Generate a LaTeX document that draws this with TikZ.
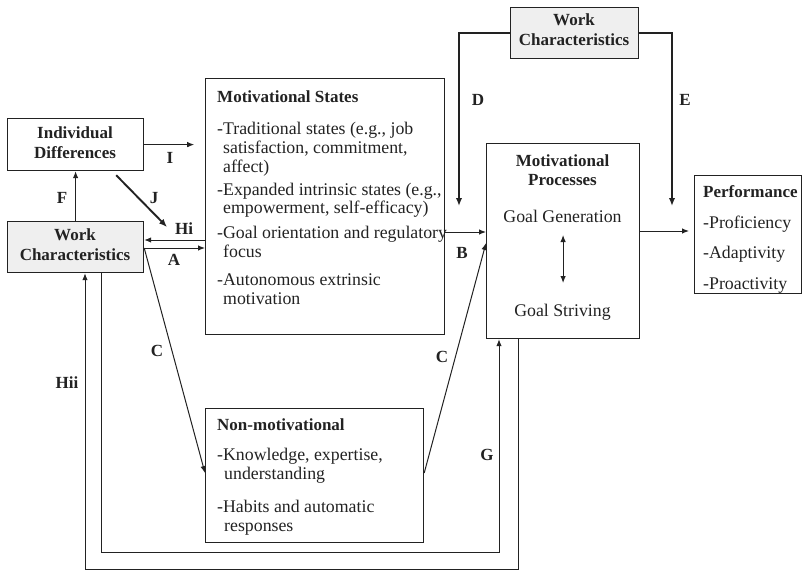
\documentclass[tikz,border=0pt]{standalone}
\usepackage{fontspec}
\setmainfont{Liberation Serif}
\usetikzlibrary{arrows.meta}
\newcommand\bodyfont{\fontsize{17.8}{18.7}\selectfont}
\newcommand\headfont{\fontsize{17}{18}\selectfont\bfseries}
\definecolor{wcgray}{HTML}{EFEFEF}
\definecolor{ink}{HTML}{222222}
\tikzset{
  box/.style={draw=ink, line width=1.2pt, inner sep=0pt, anchor=north west},
  wcbox/.style={box, fill=wcgray},
  txt/.style={anchor=base west, inner sep=0pt, font=\bodyfont, text=ink},
  ctxt/.style={anchor=base, inner sep=0pt, font=\bodyfont, text=ink},
  hd/.style={anchor=base west, inner sep=0pt, font=\headfont, text=ink},
  chd/.style={anchor=base, inner sep=0pt, font=\headfont, text=ink},
  lbl/.style={inner sep=0pt, font=\headfont, text=ink},
  conn/.style={draw=ink, line width=1pt, -{Latex[length=7pt,width=5.5pt]}},
  heavy/.style={draw=ink, line width=1.9pt, -{Latex[length=8pt,width=6.5pt]}},
}
\begin{document}
\begin{tikzpicture}[x=1pt, y=-1pt]
\useasboundingbox (0,0) rectangle (803,571);

% ---- boxes ----
\node[box, minimum width=136pt, minimum height=52pt] (idf) at (7,118) {};
\node[wcbox, minimum width=136pt, minimum height=51pt] (wc1) at (7,221) {};
\node[wcbox, minimum width=128pt, minimum height=51pt] (wc2) at (510,7) {};
\node[box, minimum width=239pt, minimum height=256pt] (ms) at (205,78) {};
\node[box, minimum width=153pt, minimum height=195pt] (mp) at (486,143) {};
\node[box, minimum width=107pt, minimum height=118pt] (perf) at (694,175) {};
\node[box, minimum width=218pt, minimum height=134pt] (nm) at (205,408) {};

% ---- box texts ----
\node[chd] (idf1) at (75,138) {Individual};
\node[chd] (idf2) at (75,158) {Differences};
\node[chd] (wc1a) at (75,240) {Work};
\node[chd] (wc1b) at (75,260) {Characteristics};
\node[chd] (wc2a) at (574,25) {Work};
\node[chd] (wc2b) at (574,45) {Characteristics};

\node[hd]  (ms0) at (217,102) {Motivational States};
\node[txt] (ms1) at (217,134) {-Traditional states (e.g., job};
\node[txt] (ms2) at (223,153) {satisfaction, commitment,};
\node[txt] (ms3) at (223,172) {affect)};
\node[txt] (ms4) at (217,195) {-Expanded intrinsic states (e.g.,};
\node[txt] (ms5) at (223,213) {empowerment, self-efficacy)};
\node[txt] (ms6) at (217,238) {-Goal orientation and regulatory};
\node[txt] (ms7) at (223,257) {focus};
\node[txt] (ms8) at (217,285) {-Autonomous extrinsic};
\node[txt] (ms9) at (223,304) {motivation};

\node[chd]  (mp0) at (562.5,166) {Motivational};
\node[chd]  (mp1) at (562.5,185) {Processes};
\node[ctxt] (mpg) at (562.5,222) {Goal Generation};
\node[ctxt] (mps) at (562.5,316) {Goal Striving};

\node[hd]  (pf0) at (703,197) {Performance};
\node[txt] (pf1) at (703,228) {-Proficiency};
\node[txt] (pf2) at (703,258) {-Adaptivity};
\node[txt] (pf3) at (703,289) {-Proactivity};

\node[hd]  (nm0) at (217,430) {Non-motivational};
\node[txt] (nm1) at (217,460) {-Knowledge, expertise,};
\node[txt] (nm2) at (224,479) {understanding};
\node[txt] (nm3) at (217,512) {-Habits and automatic};
\node[txt] (nm4) at (224,531) {responses};

% ---- reference levels for connectors ----
\coordinate (lvHi) at (0,240);
\coordinate (lvA)  at (0,248);
\coordinate (lvB)  at (0,232);
\coordinate (lvC)  at (0,243);
\coordinate (lvCn) at (0,473);
\coordinate (lvTip) at (0,206);
\coordinate (lvP)  at (0,231);
\coordinate (lvG)  at (0,552);
\coordinate (lvH)  at (0,569.5);
\coordinate (lvGg) at (0,235);
\coordinate (lvGs) at (0,283);
\coordinate (xD)  at (459,0);
\coordinate (xE)  at (672,0);
\coordinate (xG)  at (101,0);
\coordinate (xH)  at (85,0);
\coordinate (xGm) at (499,0);
\coordinate (xHm) at (518,0);
\coordinate (jEnd) at (167,227);

% ---- connectors ----
\draw[conn] (wc1.north) -- (idf.south);                        % F
\draw[conn] (idf.east) -- ++(50,0) coordinate (iEnd);          % I
\draw[heavy] ([xshift=-28pt,yshift=-4pt]idf.south east) -- (jEnd); % J
\draw[conn] (ms.west |- lvHi) -- (wc1.east |- lvHi);           % Hi
\draw[conn] (wc1.east |- lvA) -- (ms.west |- lvA);             % A
\draw[conn] (wc1.east |- lvA) -- (nm.west |- lvCn);            % C
\draw[conn] (ms.east |- lvB) -- (mp.west |- lvB);              % B
\draw[conn] (nm.east |- lvCn) -- (mp.west |- lvC);             % C
\draw[heavy] (wc2.west) -| (xD |- lvTip);                      % D
\draw[heavy] (wc2.east) -| (xE |- lvTip);                      % E
\draw[conn] (mp.east |- lvP) -- ([xshift=-5pt]perf.west |- lvP);
\draw[conn] (wc1.south -| xG) |- (xGm |- lvG) -- (mp.south -| xGm);   % G
\draw[conn] (mp.south -| xHm) |- (xH |- lvH) -- (wc1.south -| xH);    % Hii
\draw[draw=ink, line width=1pt, {Latex[length=7pt,width=5.5pt]}-{Latex[length=7pt,width=5.5pt]}]
  (mp.north |- lvGg) -- (mp.north |- lvGs);

% ---- path labels ----
\node[lbl] (lI)  at (170,158) {I};
\node[lbl] (lF)  at (62,198) {F};
\node[lbl] (lJ)  at (154,198) {J};
\node[lbl] (lHi) at (184,229) {Hi};
\node[lbl] (lA)  at (174,260) {A};
\node[lbl] (lB)  at (462,253) {B};
\node[lbl] (lC1) at (157,351) {C};
\node[lbl] (lC2) at (442,357) {C};
\node[lbl] (lD)  at (478,100) {D};
\node[lbl] (lE)  at (685,100) {E};
\node[lbl] (lG)  at (487,455) {G};
\node[lbl] (lH2) at (67,383) {Hii};
\end{tikzpicture}
\end{document}
